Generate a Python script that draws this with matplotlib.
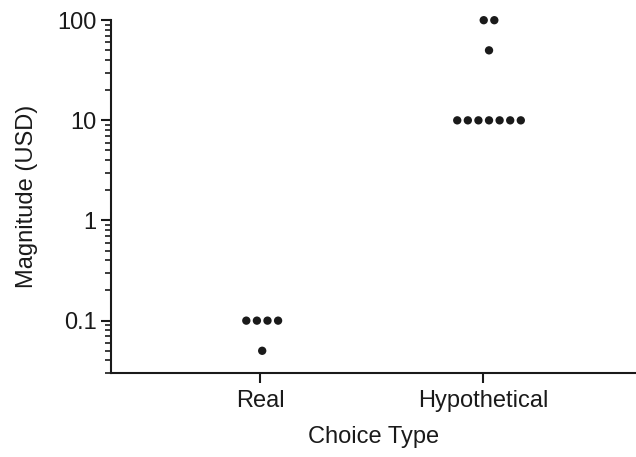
import numpy as np
import matplotlib
matplotlib.use("Agg")
import matplotlib.pyplot as plt
from matplotlib.ticker import LogLocator, FixedLocator, NullFormatter

plt.rcParams['font.family'] = ['Liberation Sans', 'DejaVu Sans']

# data (one entry per respondent)
categories = ["Real", "Hypothetical"]
real_values = [0.1, 0.1, 0.1, 0.1, 0.05]
hypothetical_values = [100, 100, 50, 10, 10, 10, 10, 10, 10, 10]
y_ticks = [0.1, 1, 10, 100]
y_tick_labels = ["0.1", "1", "10", "100"]

ink = "#1a1a1a"
step = 0.0475            # horizontal spacing between dots at equal values
shift = [0.01, 0.027]    # the swarm sits a touch right of its tick

fig = plt.figure(figsize=(6.36, 4.57), dpi=100)
ax = fig.add_axes([0.1745, 0.1838, 0.8255, 0.772])

for i, vals in enumerate([real_values, hypothetical_values]):
    vals = np.array(vals, dtype=float)
    xs = np.zeros(len(vals))
    for v in np.unique(vals):
        idx = np.where(vals == v)[0]
        n = len(idx)
        xs[idx] = (np.arange(n) - (n - 1) / 2) * step
    ax.scatter(i + shift[i] + xs, vals, s=36, color=ink, edgecolors='none',
               clip_on=False, zorder=3)

ax.set_yscale('log')
ax.set_ylim(0.03, 100)
ax.set_xlim(-0.668, 1.686)

ax.yaxis.set_major_locator(FixedLocator(y_ticks))
ax.set_yticklabels(y_tick_labels)
ax.yaxis.set_minor_locator(LogLocator(base=10, subs=np.arange(2, 10)))
ax.yaxis.set_minor_formatter(NullFormatter())

ax.set_xticks(range(len(categories)))
ax.set_xticklabels(categories)

for side in ['top', 'right']:
    ax.spines[side].set_visible(False)
for side in ['left', 'bottom']:
    ax.spines[side].set_linewidth(1.5)
    ax.spines[side].set_color(ink)

ax.tick_params(axis='y', which='major', length=7.5, width=1.5, color=ink,
               labelsize=17, labelcolor=ink, pad=3)
ax.tick_params(axis='y', which='minor', length=4, width=1.2, color=ink)
ax.tick_params(axis='x', which='major', length=7, width=1.5, color=ink,
               labelsize=17, labelcolor=ink, pad=5)

ax.set_ylabel("Magnitude (USD)", fontsize=17, color=ink, labelpad=14)
ax.set_xlabel("Choice Type", fontsize=17, color=ink, labelpad=10)

fig.savefig("out.png", dpi=100)
